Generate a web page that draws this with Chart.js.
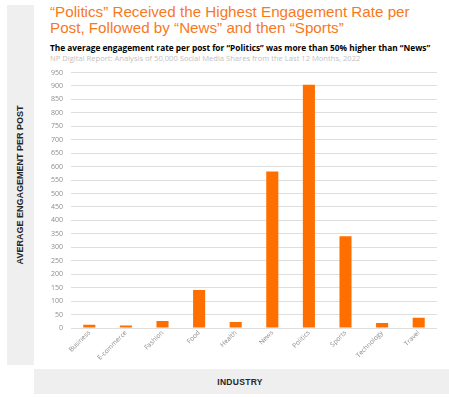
<!DOCTYPE html>
<html>
<head>
<meta charset="utf-8">
<script src="https://cdn.jsdelivr.net/npm/chart.js@4"></script>
<style>
    body { margin: 0; background: #fff; width: 449px; height: 397px; overflow: hidden; position: relative; font-family: 'Liberation Sans', Arial, sans-serif; }
    .band { position: absolute; background: #efefef; }
    #leftBand { left: 7px; top: 5px; width: 27px; height: 360px; }
    #bottomBand { left: 34px; top: 369px; width: 415px; height: 25px; }
    #title { position: absolute; left: 50px; top: 4px; color: #f7791f; font-size: 15.2px; line-height: 16px; }
    #subtitle { position: absolute; left: 50px; top: 42px; font-family: 'Open Sans', sans-serif; font-weight: bold; font-size: 8.3px; color: #000; white-space: nowrap; }
    #source { position: absolute; left: 50px; top: 52.5px; font-family: 'Open Sans', sans-serif; font-size: 7.6px; color: #bfbfbf; white-space: nowrap; }
    #yTitle { position: absolute; left: 20px; top: 185px; transform: translate(-50%, -50%) rotate(-90deg); font-weight: bold; font-size: 9px; color: #262626; white-space: nowrap; }
    #xTitle { position: absolute; left: 240px; top: 382px; transform: translate(-50%, -50%); font-weight: bold; font-size: 8.5px; color: #262626; letter-spacing: 0.3px; }
    canvas { position: absolute; left: 0; top: 0; }
</style>
</head>
<body>
<div class="band" id="leftBand"></div>
<div class="band" id="bottomBand"></div>
<div id="title">“Politics” Received the Highest Engagement Rate per<br>Post, Followed by “News” and then “Sports”</div>
<div id="subtitle">The average engagement rate per post for “Politics” was more than 50% higher than “News”</div>
<div id="source">NP Digital Report: Analysis of 50,000 Social Media Shares from the Last 12 Months, 2022</div>
<div id="yTitle">AVERAGE ENGAGEMENT PER POST</div>
<div id="xTitle">INDUSTRY</div>
<canvas id="engagementChart" width="449" height="397"></canvas>
<script>
const industries = ['Business', 'E-commerce', 'Fashion', 'Food', 'Health', 'News', 'Politics', 'Sports', 'Technology', 'Travel'];
const avgEngagement = [12, 9, 26, 141, 22, 582, 904, 341, 19, 38];
const yMin = 0;
const yMax = 950;
const yStep = 50;

document.addEventListener('DOMContentLoaded', function() {
    const ctx = document.getElementById('engagementChart').getContext('2d');
    new Chart(ctx, {
        type: 'bar',
        data: {
            labels: industries,
            datasets: [{
                data: avgEngagement,
                backgroundColor: '#ff6f00',
                borderWidth: 0,
                categoryPercentage: 1,
                barPercentage: 0.33
            }]
        },
        options: {
            responsive: false,
            animation: false,
            devicePixelRatio: 1,
            layout: {
                padding: { top: 72.5, right: 12, left: 0, bottom: 0 }
            },
            plugins: {
                legend: { display: false },
                tooltip: { enabled: false }
            },
            scales: {
                x: {
                    grid: { display: false },
                    border: { display: false },
                    ticks: {
                        minRotation: 45,
                        maxRotation: 45,
                        padding: -7,
                        color: '#8c8c8c',
                        font: { family: 'Open Sans', size: 6.6 }
                    },
                    afterFit: function(scale) { scale.height = 69; }
                },
                y: {
                    min: yMin,
                    max: yMax,
                    grid: { color: '#dedede', lineWidth: 1, drawTicks: false },
                    border: { display: false },
                    ticks: {
                        stepSize: yStep,
                        padding: 8,
                        color: '#8c8c8c',
                        font: { family: 'Open Sans', size: 7 }
                    },
                    afterFit: function(scale) { scale.width = 71; }
                }
            }
        }
    });
});
</script>
</body>
</html>
